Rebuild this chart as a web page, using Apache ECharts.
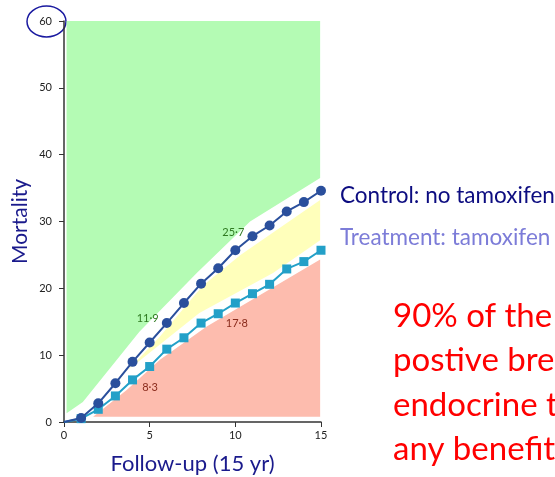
<!DOCTYPE html>
<html><head><meta charset="utf-8">
<script src="https://cdn.jsdelivr.net/npm/echarts@6/dist/echarts.min.js"></script>
<style>html,body{margin:0;padding:0;background:#fff;overflow:hidden}#c{width:555px;height:477px}</style>
</head><body><div id="c"></div>
<script>
// ---- data ----
const years = [0,1,2,3,4,5,6,7,8,9,10,11,12,13,14,15];
const controlValues = [0,0.6,2.8,5.8,9.0,11.9,14.8,17.8,20.7,23.0,25.7,27.8,29.4,31.5,32.9,34.6];
const treatmentValues = [0,0.5,1.9,3.9,6.3,8.3,10.9,12.6,14.8,16.2,17.8,19.2,20.6,22.9,24.0,25.7];
const controlLabelYears = [5,10];
const controlLabelTexts = ['11·9','25·7'];
const treatmentLabelYears = [5,10];
const treatmentLabelTexts = ['8·3','17·8'];
const xTicks = [0,5,10,15];
const yTicks = [0,10,20,30,40,50,60];
// shaded regions (x in years, y in %)
const greenRegion = [[0.15,60],[0.15,1.3],[1.1,3.0],[4.4,13.5],[7.75,22.3],[10.86,30],[14.95,36.5],[14.95,60]];
const yellowRegion = [[3.66,7.6],[5.6,12.8],[8.1,20.4],[10.3,25],[14.95,33.2],[14.95,27.2],[12.2,22.3],[7.9,16.3],[3.9,8.1]];
const redRegion = [[1.7,0.8],[3.66,4.8],[5.6,9.3],[8.33,14.3],[14.95,24.3],[14.95,0.8]];
const legendTexts = ['Control: no tamoxifen','Treatment: tamoxifen'];
const noteLines = ['90% of the oestrogen','postive breast','endocrine therapy','any benefit'];

const FONT = 'Lato, "Open Sans", sans-serif';
const chart = echarts.init(document.getElementById('c'), null, {renderer:'canvas'});

function polySeries(region, color){
  return {
    type:'custom', silent:true, z:1,
    data:[[0,0]],
    renderItem:function(params, api){
      return {type:'polygon', shape:{points: region.map(p=>api.coord(p))}, style:{fill:color}};
    }
  };
}
function lineData(vals, labYears, labTexts, pos){
  return years.map((y,i)=>{
    const item = {value:[y, vals[i]]};
    if(i===0){ item.symbol='none'; }
    const k = labYears.indexOf(y);
    if(k>=0){
      item.label = {show:true, formatter:labTexts[k], position:pos[k], color:pos.color, fontSize:11, fontFamily:FONT};
    }
    return item;
  });
}
const cPos = [[-8,-25],[-8,-18]]; cPos.color='#2e7a20';
const tPos = [[-3,20],[-5,19]]; tPos.color='#8a2b1c';

chart.setOption({
  animation:false,
  grid:{left:64, right:234, top:21, bottom:55, containLabel:false, outerBoundsMode:'none'},
  xAxis:{type:'value', min:0, max:15, interval:5,
    name:'Follow-up (15 yr)', nameLocation:'middle', nameGap:31,
    nameTextStyle:{fontSize:22, color:'#1a1a8c', fontFamily:FONT},
    axisLine:{lineStyle:{color:'#333', width:1.5}},
    axisTick:{show:true, length:5, lineStyle:{color:'#333'}},
    axisLabel:{fontSize:11, color:'#222', margin:8, fontFamily:FONT,
      formatter:v=>xTicks.includes(v)?String(v):''},
    splitLine:{show:false}},
  yAxis:{type:'value', min:0, max:60, interval:10,
    name:'Mortality', nameLocation:'middle', nameGap:33,
    nameTextStyle:{fontSize:21, color:'#1a1a8c', fontFamily:FONT},
    axisLine:{show:true, lineStyle:{color:'#333', width:1.5}},
    axisTick:{show:true, length:5, lineStyle:{color:'#333'}},
    axisLabel:{fontSize:11, color:'#222', margin:12, fontFamily:FONT,
      formatter:v=>yTicks.includes(v)?String(v):''},
    splitLine:{show:false}},
  series:[
    polySeries(greenRegion,'#b4fbb4'),
    polySeries(yellowRegion,'#ffffbb'),
    polySeries(redRegion,'#fdbcae'),
    {type:'line', z:3, data:lineData(treatmentValues, treatmentLabelYears, treatmentLabelTexts, tPos),
      symbol:'rect', symbolSize:9, lineStyle:{color:'#23a0c8', width:2}, itemStyle:{color:'#23a0c8'}},
    {type:'line', z:4, data:lineData(controlValues, controlLabelYears, controlLabelTexts, cPos),
      symbol:'circle', symbolSize:10, lineStyle:{color:'#2a4f9c', width:2}, itemStyle:{color:'#2a4f9c'}}
  ],
  graphic:[
    {type:'ellipse', shape:{cx:46.5, cy:21.5, rx:19.5, ry:15.5}, style:{fill:'none', stroke:'#1a1aa0', lineWidth:1.5}},
    {type:'text', x:340, y:184, style:{text:legendTexts[0], font:'22.5px '+FONT, fill:'#0c0c80', verticalAlign:'top'}},
    {type:'text', x:340, y:226, style:{text:legendTexts[1], font:'22.5px '+FONT, fill:'#7c7cd8', verticalAlign:'top'}},
    {type:'text', x:393, y:300, style:{text:noteLines[0], font:'33px '+FONT, fill:'#ff0000', verticalAlign:'top'}},
    {type:'text', x:393, y:344, style:{text:noteLines[1], font:'33px '+FONT, fill:'#ff0000', verticalAlign:'top'}},
    {type:'text', x:393, y:389, style:{text:noteLines[2], font:'33px '+FONT, fill:'#ff0000', verticalAlign:'top'}},
    {type:'text', x:393, y:433, style:{text:noteLines[3], font:'33px '+FONT, fill:'#ff0000', verticalAlign:'top'}}
  ]
});
</script></body></html>
